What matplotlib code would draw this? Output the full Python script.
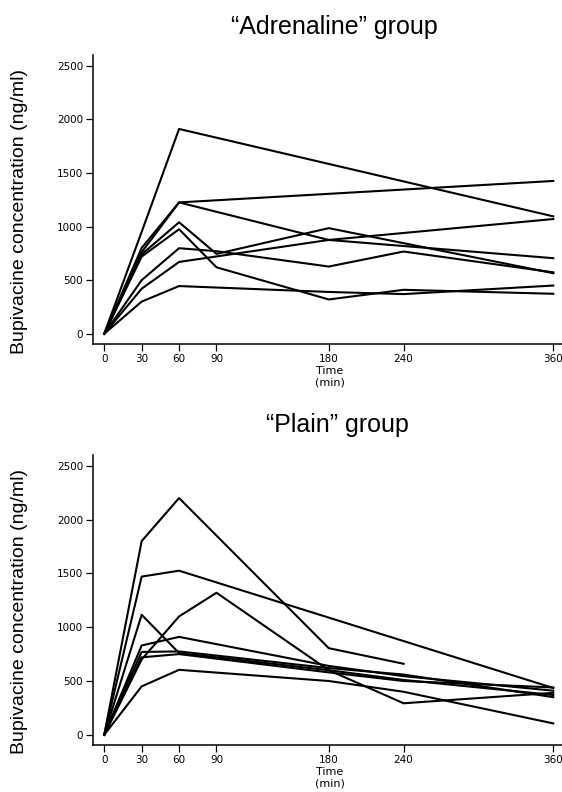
import numpy as np
import matplotlib.pyplot as plt

plt.rcParams['font.family'] = ['Liberation Sans', 'DejaVu Sans']

# Tiempos de muestreo (min)
times = np.array([0, 30, 60, 90, 180, 240, 360])
nan = np.nan

# Grupo "Adrenaline": concentración de bupivacaína (ng/ml) por paciente
adr_1 = [0, 950, 1910, nan, nan, nan, 1095]
adr_2 = [0, 800, 1225, nan, nan, nan, 1425]
adr_3 = [0, 760, 1225, nan, 875, nan, 705]
adr_4 = [0, 740, 1040, 745, 985, nan, 565]
adr_5 = [0, 720, 975, 620, 320, 410, 373]
adr_6 = [0, 500, 798, 770, 627, 767, 573]
adr_7 = [0, 420, 670, nan, 875, nan, 1070]
adr_8 = [0, 300, 445, nan, 390, 370, 450]

# Grupo "Plain"
pln_1 = [0, 1800, 2200, nan, 805, 660, nan]
pln_2 = [0, 1470, 1525, nan, nan, nan, 435]
pln_3 = [0, 1115, 760, nan, 600, 510, 370]
pln_4 = [0, 700, 1100, 1320, 600, 293, 390]
pln_5 = [0, 830, 910, nan, 640, 545, 410]
pln_6 = [0, 770, 775, nan, 620, 560, 350]
pln_7 = [0, 450, 604, nan, 500, 400, 106]
pln_8 = [0, 720, 750, nan, 580, 500, 440]

adrenaline = [adr_1, adr_2, adr_3, adr_4, adr_5, adr_6, adr_7, adr_8]
plain = [pln_1, pln_2, pln_3, pln_4, pln_5, pln_6, pln_7, pln_8]

yticks = [0, 500, 1000, 1500, 2000, 2500]


def draw_panel(ax, series):
    for s in series:
        y = np.array(s, dtype=float)
        ok = ~np.isnan(y)
        ax.plot(times[ok], y[ok], color="black", lw=1.5)
    ax.set_xlim(-9, 367)
    ax.set_ylim(-95, 2600)
    ax.set_xticks(times)
    ax.set_yticks(yticks)
    ax.tick_params(length=5, width=0.9, direction="out", pad=2)
    for lab in ax.get_xticklabels() + ax.get_yticklabels():
        lab.set_fontfamily("DejaVu Sans")
        lab.set_fontsize(7.5)
    for side in ["top", "right"]:
        ax.spines[side].set_visible(False)
    for side in ["left", "bottom"]:
        ax.spines[side].set_linewidth(1.1)
    ax.set_ylabel("Bupivacine concentration (ng/ml)", fontsize=14)
    ax.yaxis.set_label_coords(-0.139, 0.46)
    ax.set_xlabel("Time\n(min)", fontsize=8, linespacing=1.2, family="DejaVu Sans")
    ax.xaxis.set_label_coords(0.505, -0.075)


fig = plt.figure(figsize=(5.62, 7.92), dpi=100)
ax1 = fig.add_axes([0.1655, 0.5657, 0.8345, 0.3649])
ax2 = fig.add_axes([0.1655, 0.0593, 0.8345, 0.3662])

draw_panel(ax1, adrenaline)
draw_panel(ax2, plain)

fig.text(0.595, 0.966, "\u201cAdrenaline\u201d group", ha="center", va="center", fontsize=18)
fig.text(0.6, 0.463, "\u201cPlain\u201d group", ha="center", va="center", fontsize=18)

fig.savefig("out.png", dpi=100)
